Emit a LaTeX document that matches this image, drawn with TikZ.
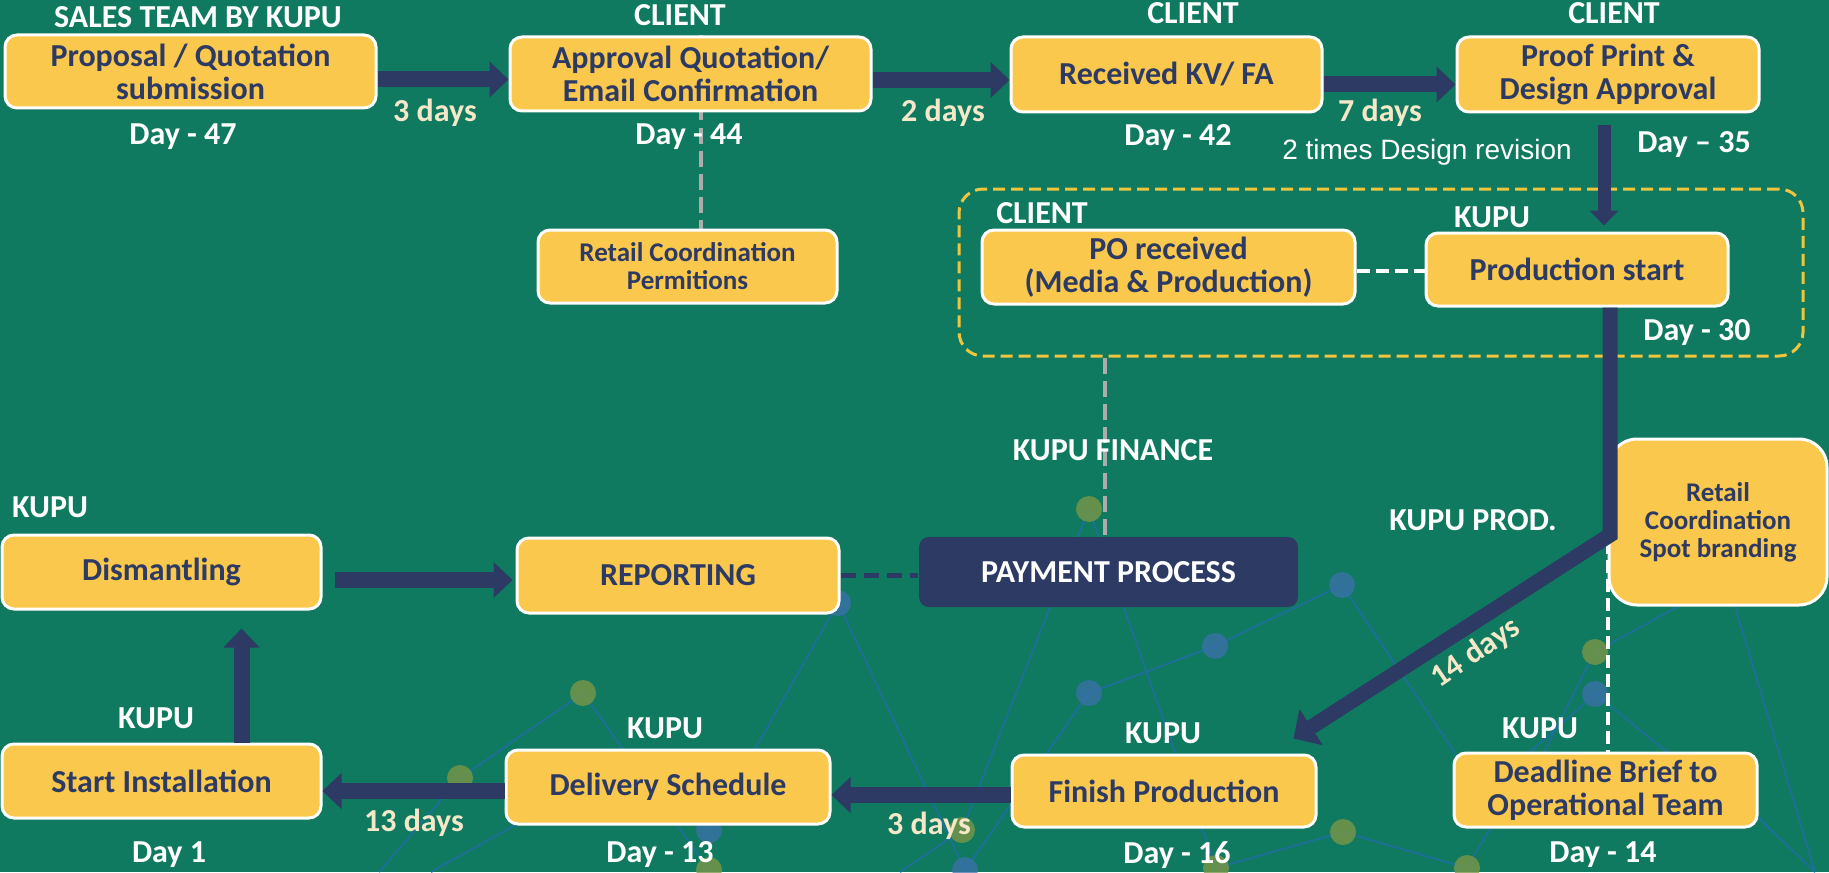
\documentclass[tikz,border=0pt]{standalone}
\usepackage{fontspec}
\setmainfont{Carlito}
\newfontfamily\notefont{Liberation Sans}
\usepackage{xcolor}
\usepackage{tikz}
\usetikzlibrary{positioning,arrows.meta,fit,calc}

\definecolor{bg}{RGB}{15,122,95}
\definecolor{boxyellow}{RGB}{250,200,76}
\definecolor{navy}{RGB}{44,58,100}
\definecolor{cream}{RGB}{245,232,200}
\definecolor{grpyellow}{RGB}{240,196,60}
\definecolor{netline}{RGB}{28,112,150}
\definecolor{olivedot}{RGB}{122,150,72}
\definecolor{bluedot}{RGB}{60,112,172}
\definecolor{dashgrey}{RGB}{172,172,172}

\pgfdeclarelayer{canvas}
\pgfdeclarelayer{links}
\pgfsetlayers{canvas,links,main}

\begin{document}
\begin{tikzpicture}[
      x=0.5pt, y=-0.5pt,
      font=\bfseries\fontsize{16}{16.5}\selectfont,
      box/.style={draw=white, line width=1.5pt, fill=boxyellow, text=navy, rounded corners=6pt, align=center, inner sep=0pt},
      smallbox/.style={box, font=\bfseries\fontsize{13.5}{14}\selectfont},
      dark/.style={box, draw=none, fill=navy, text=white, rounded corners=5pt},
      lbl/.style={text=white},
      days/.style={text=cream},
      flow/.style={draw=navy, line width=8pt, -{Triangle[length=9.5pt,width=17.5pt]}},
      greydash/.style={draw=dashgrey, line width=2pt, dash pattern=on 8pt off 3.5pt},
      whitedash/.style={draw=white, line width=2pt, dash pattern=on 6.5pt off 3pt},
      navydash/.style={draw=navy, line width=2.5pt, dash pattern=on 7.5pt off 4pt},
      grpbox/.style={draw=grpyellow, line width=1.5pt, dash pattern=on 6pt off 3pt, rounded corners=12pt, inner sep=0pt},
      net/.style={draw=netline, line width=1pt}
    ]
    \useasboundingbox (0,0) rectangle (1829,872);
    % background
    \begin{pgfonlayer}{canvas}
    \fill[bg] (0,0) rectangle (1829,872);
    % network pattern
    \foreach \xa/\ya/\xb/\yb in {1089/509/962/830, 1089/509/1216/868, 1342/585/1215/646, 1215/646/1089/693,
        1342/585/1480/790, 1089/693/965/870, 838/603/709/830, 838/603/965/870, 583/693/460/778,
        583/693/709/870, 460/778/379/872, 560/800/431/872, 1343/832/1467/868, 1343/832/1216/868,
        1595/652/1690/600, 1595/652/1530/780, 1595/694/1510/770, 1595/694/1690/770,
        1730/590/1815/872, 1740/800/1815/872, 1495/820/1467/868, 962/830/900/872}
      \draw[net] (\xa,\ya) -- (\xb,\yb);
    \foreach \x/\y in {1089/509, 1595/652, 1343/832, 1467/868, 1216/868, 583/693, 460/778, 962/830, 709/870}
      \fill[olivedot, opacity=.8] (\x,\y) circle[radius=6.5pt];
    \foreach \x/\y in {1342/585, 1215/646, 1089/693, 1595/694, 838/603, 709/830, 965/870}
      \fill[bluedot, opacity=.75] (\x,\y) circle[radius=6.5pt];
    \end{pgfonlayer}
    % PO / production group
    \node[grpbox, fit={(959,189) (1803,356)}] (grp) {};
    % top row
    \node[box, minimum width=185.5pt, minimum height=36.5pt] (proposal) at (190.5,71.5) {Proposal / Quotation\\submission};
    \node[box, minimum width=180.5pt, minimum height=37pt] (approval) at (690.5,74) {Approval Quotation/\\Email Confirmation};
    \node[box, minimum width=155.5pt, minimum height=37.5pt] (received) at (1166.5,74.5) {Received KV/ FA};
    \node[box, minimum width=151pt, minimum height=37.5pt] (proof) at (1608,74.5) {Proof Print \&\\Design Approval};
    \node[smallbox, minimum width=149.5pt, minimum height=36.5pt] (permit) at (687.5,266.5) {Retail Coordination\\Permitions};
    \node[box, minimum width=186.5pt, minimum height=37pt] (po) at (1168.5,267) {PO received\\(Media \& Production)};
    \node[box, minimum width=151pt, minimum height=36.5pt] (prodstart) at (1577,269.5) {Production start};
    % bottom rows
    \node[box, minimum width=159.5pt, minimum height=37pt] (dismantling) at (161.5,572) {Dismantling};
    \node[box, minimum width=161pt, minimum height=37.5pt] (reporting) at (678,575.5) {REPORTING};
    \node[dark, minimum width=189.5pt, minimum height=35pt] (payment) at (1108.5,572) {PAYMENT PROCESS};
    \node[smallbox, rounded corners=14pt, minimum width=109pt, minimum height=83pt] (retailspot) at (1718,522) {Retail\\Coordination\\Spot branding};
    \node[box, minimum width=159.5pt, minimum height=37pt] (startinst) at (161.5,781) {Start Installation};
    \node[box, minimum width=162pt, minimum height=37pt] (delivery) at (668,787) {Delivery Schedule};
    \node[box, minimum width=152pt, minimum height=36pt] (finish) at (1164,791) {Finish Production};
    \node[box, minimum width=151.5pt, minimum height=37pt] (deadline) at (1605.5,790) {Deadline Brief to\\Operational Team};
    % dashed links
    \begin{pgfonlayer}{links}
    \draw[greydash] ([xshift=5pt]approval.north) -- ([xshift=5pt]approval.north |- permit.north);
    \end{pgfonlayer}
    \draw[greydash] ([xshift=-2pt]grp.south -| payment.north) -- ([xshift=-2pt]payment.north);
    \draw[whitedash] ([yshift=-2pt]po.east) -- ([yshift=-2pt]po.east -| prodstart.west);
    \draw[navydash] (reporting.east) -- (reporting.east -| payment.west);
    \draw[whitedash] (retailspot.west) -- (retailspot.west |- deadline.north);
    % flow arrows
    \draw[flow] ([yshift=-4pt]proposal.east) -- ([yshift=-4pt]proposal.east -| approval.west);
    \draw[flow] ([yshift=-3pt]approval.east) -- ([yshift=-3pt]approval.east -| received.west);
    \draw[flow] ([yshift=-5pt]received.east) -- ([yshift=-5pt]received.east -| proof.west);
    \draw[flow, line width=6.5pt, -{Triangle[length=7.5pt,width=14pt]}, shorten <=5.5pt, shorten >=3pt]
      ([xshift=-2pt]proof.south) -- ([xshift=-2pt]proof.south |- prodstart.north);
    \coordinate (turn) at (1610,535);
    \draw[flow, line width=7.5pt, -{Triangle[length=10.5pt,width=21pt]}]
      ([xshift=16.5pt]prodstart.south) -- (turn) -- ([xshift=-12pt,yshift=7.5pt]finish.north east);
    \draw[flow] ([yshift=-2pt]finish.west) -- ([yshift=-2pt]finish.west -| delivery.east);
    \draw[flow] ([yshift=-2pt]delivery.west) -- ([yshift=-2pt]delivery.west -| startinst.east);
    \draw[flow, shorten >=9pt] ([xshift=40pt]startinst.north) -- ([xshift=40pt]startinst.north |- dismantling.south);
    \draw[flow, shorten <=6pt, shorten >=1.5pt] ([yshift=-4pt]dismantling.east) -- ([yshift=-4pt]dismantling.east -| reporting.west);
    % who labels
    \node[lbl] (salesteam) at (198,17) {SALES TEAM BY KUPU};
    \node[lbl] (clientapp) at (680,15) {CLIENT};
    \node[lbl] (clientkv) at (1193,13) {CLIENT};
    \node[lbl] (clientproof) at (1614,13) {CLIENT};
    \node[lbl] (clientpo) at (1042,213) {CLIENT};
    \node[lbl] (kupustart) at (1492,217) {KUPU};
    \node[lbl] (finance) at (1113,450) {KUPU FINANCE};
    \node[lbl] (prodteam) at (1473,520) {KUPU PROD.};
    \node[lbl] (kupudism) at (50,507) {KUPU};
    \node[lbl] (kupuinst) at (156,718) {KUPU};
    \node[lbl] (kupudeliv) at (665,728) {KUPU};
    \node[lbl] (kupufin) at (1163,733) {KUPU};
    \node[lbl] (kupubrief) at (1540,728) {KUPU};
    % day labels
    \node[lbl] (d47) at (183,137) {Day - 47};
    \node[lbl] (d44) at (689,137) {Day - 44};
    \node[lbl] (d42) at (1178,138) {Day - 42};
    \node[lbl] (d35) at (1694,145) {Day -- 35};
    \node[lbl] (d30) at (1697,333) {Day - 30};
    \node[lbl] (d1) at (169,855) {Day 1};
    \node[lbl] (d13) at (660,855) {Day - 13};
    \node[lbl] (d16) at (1177,855) {Day - 16};
    \node[lbl] (d14) at (1603,855) {Day - 14};
    % durations
    \node[days] (t3a) at (435,113) {3 days};
    \node[days] (t2) at (943,113) {2 days};
    \node[days] (t7) at (1380,113) {7 days};
    \node[days] (t13) at (414,823) {13 days};
    \node[days] (t3b) at (929,826) {3 days};
    \node[days, rotate=34, inner sep=0pt] (t14) at (1476,653) {14 days};
    \node[text=white, font=\notefont\fontsize{14}{16}\selectfont] (revision) at (1427,152) {2 times Design revision};
  \end{tikzpicture}
\end{document}
